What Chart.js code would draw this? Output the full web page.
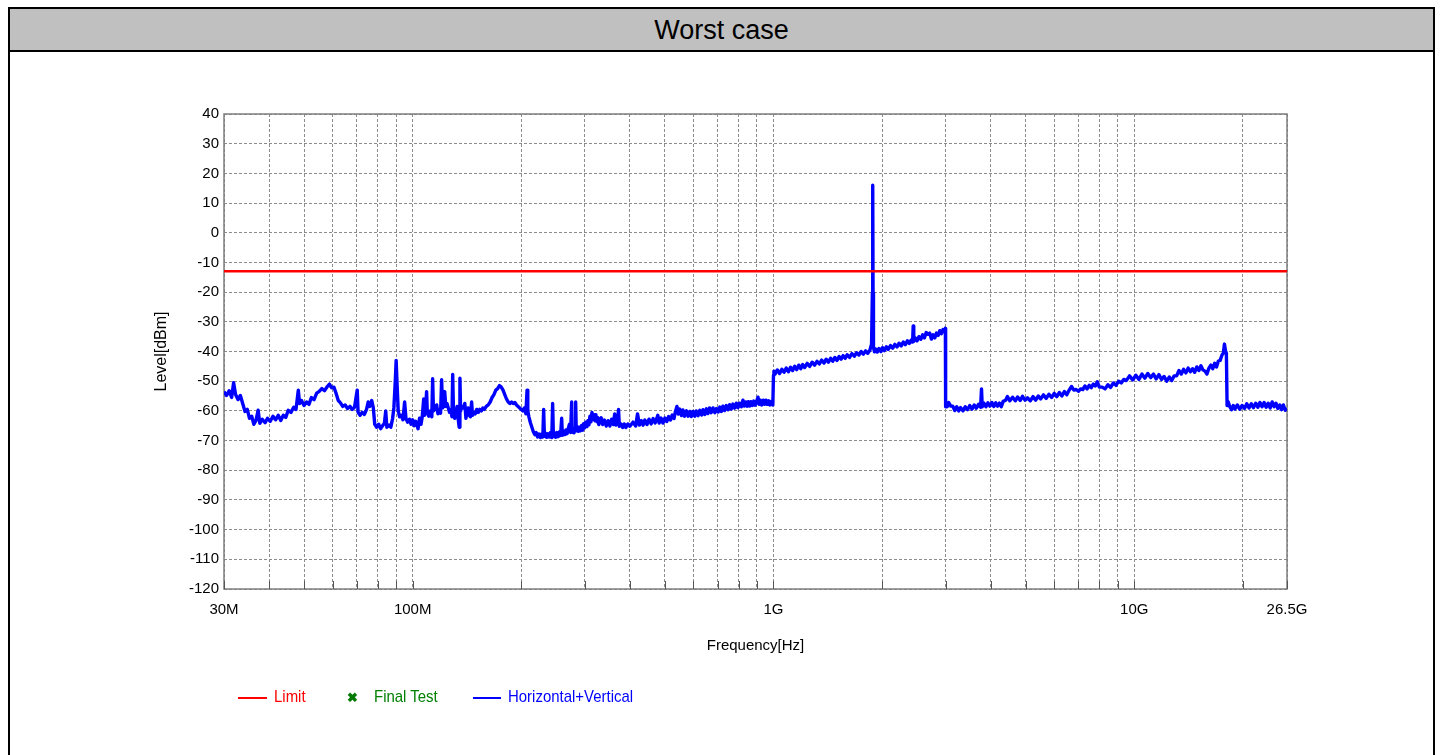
<!DOCTYPE html>
<html><head><meta charset="utf-8">
<script src="https://cdn.jsdelivr.net/npm/chart.js@4/dist/chart.umd.min.js"></script>
<style>
html,body{margin:0;padding:0;background:#fff;width:1441px;height:755px;overflow:hidden;}
#frame{position:absolute;left:8px;top:7px;height:800px;border:2px solid #000;box-sizing:border-box;width:1427px;}
#title{height:41px;background:#c0c0c0;border-bottom:2px solid #000;text-align:center;font-family:"Liberation Sans",Arial,sans-serif;font-size:27px;line-height:42px;color:#000;}
#c{position:absolute;left:0;top:0;}
.lg{position:absolute;top:686px;font-family:"Liberation Sans",Arial,sans-serif;font-size:17px;line-height:22px;white-space:nowrap;transform:scaleX(0.88);transform-origin:0 50%;}
.ln{position:absolute;height:2px;top:697px;}
</style>
</head><body>
<div id="frame"><div id="title">Worst case</div></div>
<canvas id="c" width="1441" height="755"></canvas>
<div class="ln" style="left:238px;width:29px;background:#ff0000"></div>
<div class="lg" style="left:274px;color:#ff0000">Limit</div>
<div class="lg" style="left:347px;color:#007a00;font-size:13px;font-weight:bold;top:687px;transform:none">&#10006;</div>
<div class="lg" style="left:374px;color:#008000">Final Test</div>
<div class="ln" style="left:473px;width:28px;background:#0000ff"></div>
<div class="lg" style="left:508px;color:#0000ff">Horizontal+Vertical</div>
<script>
const FONT = '"Liberation Sans",Arial,sans-serif';

// Frequency axis (MHz) grid positions and labels
const gridFreqs = [30,40,50,60,70,80,90,100,200,300,400,500,600,700,800,900,1000,2000,3000,4000,5000,6000,7000,8000,9000,10000,20000,26500];
const freqLabels = {30:'30M',100:'100M',1000:'1G',10000:'10G',26500:'26.5G'};
const levelMin = -120, levelMax = 40, levelStep = 10;

// Limit line (dBm)
const limitLevel = -13;
const limitFreqs = [30, 26500];

// Final Test markers (none in this plot)
const finalTest = [];

// Horizontal+Vertical trace: [frequency MHz, level dBm]
const traceHV = [
[30,-53.5],[30.5,-54.8],[31,-53.2],[31.5,-55.5],[31.9,-50.5],[32.3,-54.5],[32.8,-56.2],[33.3,-54.8],[33.8,-57.5],[34.3,-60.2],[34.8,-59.5],[35.3,-62.5],[35.8,-61.8],[36.3,-64.5],[36.8,-63.2],[37.3,-59.8],[37.7,-64.2],[38.3,-62.8],[39,-64],[39.6,-62.5],[40.3,-63.5],[41,-61.8],[41.7,-63],[42.4,-61.5],[43.1,-63.2],[43.8,-61.5],[44.5,-62.2],[45.2,-59.8],[46,-60.5],[46.8,-58.8],[47.5,-59.5],[48.2,-53],[48.6,-57.5],[49.2,-56.5],[50,-58.2],[50.8,-57],[51.6,-57.8],[52.4,-55.5],[53.3,-56.2],[54.2,-54],[55,-53.5],[56,-52.5],[57,-53.2],[58,-51.8],[58.8,-51],[59.6,-52.2],[60.5,-52],[61.3,-54],[62.2,-56.5],[63,-57.2],[64,-58.5],[65,-58],[66,-59.2],[67,-58.5],[68,-59.5],[69,-58.8],[70.2,-53],[70.6,-60.5],[71.5,-61.5],[72.5,-60.5],[73.5,-61.2],[74.5,-59.5],[75.3,-57],[76,-58.5],[77,-56.5],[77.8,-59],[78.5,-64.5],[79.5,-65.5],[80.5,-64.5],[81.5,-66],[82.5,-65],[83.5,-64.2],[84.2,-60],[84.8,-65.5],[86,-64.8],[87,-65.5],[88,-62.5],[88.7,-59],[89.5,-50],[90,-43],[90.6,-52],[91.2,-60],[92,-62],[93,-61.5],[94,-63],[95,-57],[95.8,-62.5],[96.8,-63.8],[98,-62.8],[99,-64.5],[100,-63],[101,-65],[102,-63.5],[103.5,-66],[104.5,-62.5],
[105.5,-64.5],[106.3,-62],[107.3,-56],[107.8,-61.5],[108.5,-60.5],[109.3,-53.5],[109.8,-60.5],[110.8,-61.8],[112,-60],[113,-62],[113.6,-49.2],[114.2,-60],[115.2,-59.5],[116.6,-58],[117.5,-61],[118.5,-59.5],[119.5,-60.8],[120.3,-49.5],[121,-59],[121.8,-58.5],[122.7,-53.5],[123.5,-58.5],[124.5,-57.5],[125.5,-59],[126.5,-60.5],[127.5,-59.5],[128.5,-62],[129.1,-47.7],[129.8,-61],[130.8,-62.5],[131.8,-60.5],[132.8,-58.5],[133.8,-63],[134.6,-65.5],[135.2,-49],[135.8,-60],[137,-58.5],[138.5,-59],[139.5,-57.5],[140.5,-62.5],[141.5,-60.5],[142.5,-59],[143.5,-61.5],[144.5,-62],[145.7,-57],[146.5,-61.5],[147.5,-60.5],[149,-61],[150.5,-59.5],[152,-60.5],[153.5,-59.5],[155,-60],[156.5,-59],[158,-59.5],[160,-58.5],[162,-58],[164,-57],[166,-55.5],[168,-54.5],[170,-53],[172,-52.5],[174,-51.5],[176,-52],[178,-53],[180,-54.5],[182,-56],[184,-57],[186,-57.5],[188,-57],[190,-57.5],[192,-57.2],[194,-58],[196,-58.5],[198,-59],[200,-59.5],[202,-60],[204,-59],[206,-61],[207.5,-53],[208.5,-60],[210,-62],[212,-64],[214,-65.5],[216,-67],[218,-68],[220,-67.3],[222,-68.8],[224,-67.8],[226,-69],[228,-67.8],[229.5,-68.8],[230.7,-59.5],[231.8,-68.6],[233,-67.4],[235,-68.9],[237,-67.7],[239,-68.8],[241,-67.3],[243,-69],[244.3,-57.5],[245.5,-68.6],[247,-67.5],[249,-68.9],[251,-67.3],[253,-68.7],[255,-67.1],[257,-68.3],[258.8,-62.5],[260,-68.2],[262,-66.8],[264,-68],[266,-66.4],[268,-67.7],[270,-65.9],[272,-64.5],[274,-67.3],[275.9,-57],[276.8,-67.2],[278,-66.2],[280,-67.4],[282,-65.8],[283,-57],[284,-66.7],[286,-65.3],[288,-66.9],[290,-65.5],[292,-66.7],[294,-64.9],[296,-66.5],[298,-64.3],[300,-65.7],[302,-63.8],[304,-65.3],[306,-63.3],[308,-64.7],[310,-61.8],[312,-63.7],[314,-60.5],[316,-62.8],[318,-61.3],[320,-63.3],[322,-61.3],[324,-63.7],[326,-62.3],[328,-64.6],[330,-63.3],
[333,-62.3],[336,-64.6],[340,-63.1],[344,-65.1],[348,-63.3],[352,-65.1],[356,-62.8],[360,-64.6],[363,-61],[366,-64.8],[370,-63.3],[372,-59.5],[374,-65.2],[378,-64.4],[382,-65.6],[386,-64.4],[390,-65.6],[395,-64.4],[400,-65.2],[408,-63.8],[415,-65.1],[420,-61],[425,-64.8],[430,-63.3],[435,-64.8],[440,-63.1],[446,-64.6],[452,-62.8],[458,-64.4],[464,-62.6],[470,-64.1],[478,-61.5],[482,-64.1],[488,-62.4],[494,-64.1],[500,-62.4],[506,-63.6],[512,-61.9],[518,-63.1],[524,-61.4],[530,-62.6],[535,-60.2],[540,-58.5],[545,-61.1],[550,-59.4],[556,-61.6],[561,-59.7],[567,-61.8],[574,-60],[580,-61.8],[586,-60.2],[592,-61.9],[598,-60.2],[605,-61.8],[611,-60],[618,-61.6],[625,-59.8],[632,-61.4],[638,-59.6],[645,-61.2],[652,-59.3],[658,-60.9],[665,-59],[672,-60.6],[680,-59],[688,-60.6],[695,-59.2],[703,-60.4],[710,-58.7],[717,-60.2],[724,-58.4],[732,-59.9],[740,-58.2],[748,-59.6],[756,-57.9],[764,-59.4],[772,-57.7],[780,-59.1],[789,-57.4],[797,-58.9],[805,-57.4],[815,-58.6],[823,-56.4],[830,-58.4],[838,-57],[846,-58.4],[852,-56.9],[859,-58.4],[866,-56.9],[874,-58.2],[882,-56.7],[890,-58.1],[898,-56.8],[906,-55.4],[912,-57.8],[920,-56.4],[928,-58],[937,-56.4],[945,-57.8],[953,-56.4],[962,-57.8],[970,-56.6],[978,-58],[988,-56.8],[996,-58],
[1000,-48],[1003,-46.6],[1010,-47.6],[1025,-46.2],[1040,-47.4],[1055,-46],[1070,-47],[1085,-45.6],[1100,-46.8],[1115,-45.3],[1130,-46.4],[1145,-45],[1160,-46.1],[1175,-44.6],[1190,-45.8],[1205,-44.4],[1220,-45.4],[1240,-44],[1260,-45],[1280,-43.6],[1300,-44.6],[1320,-43.3],[1340,-44.2],[1360,-42.9],[1380,-43.9],[1400,-42.6],[1420,-43.6],[1440,-42.3],[1460,-43.3],[1480,-42],[1500,-43],[1520,-41.7],[1540,-42.6],[1560,-41.4],[1580,-42.3],[1600,-41.1],[1625,-42],[1650,-40.7],[1675,-41.6],[1700,-40.4],[1725,-41.2],[1750,-40],[1775,-40.9],[1800,-39.8],[1825,-40.6],[1850,-39.6],[1870,-37.5],[1880,-20],[1884,16],[1888,-20],[1893,-38.5],[1905,-40.1],[1920,-39.2],[1940,-40.2],[1960,-39],[1985,-40],[2005,-38.7],[2030,-39.7],[2055,-38.4],[2080,-39.3],[2110,-38],[2140,-38.9],[2170,-37.6],[2200,-38.5],[2230,-37.2],[2260,-38.1],[2290,-36.8],[2320,-37.7],[2350,-36.4],[2380,-37.3],[2410,-36.1],[2430,-36.8],[2439,-31.4],[2448,-36.6],[2470,-35.4],[2500,-36.4],[2530,-35],[2560,-35.9],[2590,-34.4],[2620,-35.4],[2650,-33.6],[2680,-34.2],[2710,-33.8],[2740,-35.8],[2770,-34.4],[2800,-35.4],[2830,-33.8],[2860,-34.6],[2890,-33],[2920,-34],[2950,-32.6],[2980,-33.4],[2995,-32.2],
[3000,-58.6],[3010,-57.4],[3030,-58.6],[3060,-57.2],[3100,-58.4],[3140,-58.4],[3180,-59.9],[3220,-58.6],[3260,-60],[3300,-58.9],[3350,-60],[3400,-58.6],[3450,-59.6],[3500,-58.2],[3550,-59.4],[3600,-58],[3650,-59.1],[3700,-57.8],[3750,-58.8],[3772,-52.6],[3790,-58.6],[3830,-57.4],[3880,-58.6],[3930,-57.3],[3980,-58.4],[4030,-57.2],[4080,-58.5],[4130,-57.3],[4180,-58.4],[4230,-57.4],[4280,-58.6],[4330,-56.8],[4400,-56.4],[4450,-55.2],[4520,-56.6],[4600,-55.4],[4680,-56.6],[4750,-55.3],[4830,-56.5],[4900,-55.1],[4980,-56.4],[5060,-55.6],[5150,-56.6],[5240,-55.2],[5330,-56.4],[5420,-55],[5500,-56],[5600,-54.6],[5700,-55.8],[5800,-54.4],[5900,-55.5],[6000,-54.1],[6100,-55.2],[6200,-53.8],[6300,-55],[6400,-53.5],[6500,-54.6],[6600,-53],[6700,-51.8],[6800,-53],[6900,-52.8],[7000,-53.4],[7100,-52.6],[7200,-52.8],[7300,-51.6],[7400,-52.6],[7500,-51.4],[7600,-52.2],[7700,-51],[7800,-51.6],[7900,-50.2],[8000,-52],[8150,-52],[8300,-52.6],[8450,-51.2],[8600,-52.1],[8750,-50.6],[8900,-51.4],[9050,-50],[9200,-50.6],[9350,-49.4],[9500,-49.8],[9700,-48.2],[9900,-49.6],[10100,-48],[10300,-49.4],[10500,-47.6],[10700,-49],[10900,-47.4],[11100,-48.8],[11300,-47.6],[11500,-49.2],[11700,-47.8],[11900,-49.4],[12100,-48.4],[12300,-50],[12500,-48.6],[12700,-49.8],[12900,-48.2],[13100,-48.2],[13300,-46.4],[13500,-47.6],[13700,-46],[13900,-47.2],[14100,-45.6],[14300,-46.8],[14500,-45.8],[14700,-47],[14900,-45.2],[15100,-46.4],[15300,-44.8],[15500,-46.2],[15700,-46.6],[15900,-47.6],[16100,-45.6],[16300,-44.6],[16500,-45.8],[16700,-44],[16900,-45.2],[17100,-43.2],[17300,-43],[17500,-41.2],[17650,-40.6],[17780,-37.5],[17900,-39.8],[18000,-40.6],
[18080,-58.2],[18200,-56.9],[18400,-58.6],[18600,-59.6],[18800,-58.2],[19000,-59.4],[19300,-58],[19600,-59.4],[19900,-58.2],[20200,-59.2],[20500,-57.6],[20800,-59],[21100,-57.6],[21400,-58.9],[21700,-57.4],[22000,-58.8],[22300,-57.2],[22600,-58.6],[22900,-57.2],[23200,-58.8],[23500,-57.4],[23800,-59],[24100,-57],[24400,-58.6],[24700,-57.4],[25000,-59.2],[25300,-58],[25600,-59.6],[25900,-58],[26200,-59.8],[26500,-59]
];

const framePlugin = {
  id: 'plotFrame',
  beforeDatasetsDraw(chart) {
    const a = chart.chartArea, ctx = chart.ctx, xs = chart.scales.x;
    ctx.save();
    ctx.strokeStyle = '#7f7f7f';
    ctx.lineWidth = 1.5;
    ctx.strokeRect(a.left, a.top, a.right - a.left, a.bottom - a.top);
    ctx.strokeStyle = '#555';
    ctx.lineWidth = 1;
    ctx.beginPath();
    xs.ticks.forEach(t => {
      const px = Math.round(xs.getPixelForValue(t.value)) + 0.5;
      ctx.moveTo(px, a.bottom - 8);
      ctx.lineTo(px, a.bottom);
    });
    ctx.stroke();
    ctx.restore();
  }
};

new Chart(document.getElementById('c'), {
  type: 'line',
  data: {
    datasets: [
      { label: 'Limit', data: limitFreqs.map(f => ({x: f, y: limitLevel})), borderColor: '#ff0000', borderWidth: 2.5, pointRadius: 0, fill: false },
      { label: 'Final Test', data: finalTest, borderColor: '#008000', backgroundColor: '#008000', showLine: false, pointStyle: 'crossRot', pointRadius: 5 },
      { label: 'Horizontal+Vertical', data: traceHV.map(p => ({x: p[0], y: p[1]})), borderColor: '#0000ff', borderWidth: 3.4, borderJoinStyle: 'round', pointRadius: 0, fill: false, tension: 0 }
    ]
  },
  options: {
    responsive: false,
    animation: false,
    layout: { padding: { left: 144, right: 154, top: 114, bottom: 86 } },
    plugins: { legend: { display: false }, tooltip: { enabled: false } },
    scales: {
      x: {
        type: 'logarithmic', min: 30, max: 26500,
        afterFit(s) { s.height = 80; },
        afterBuildTicks(s) { s.ticks = gridFreqs.map(v => ({value: v})); },
        ticks: { autoSkip: false, maxRotation: 0, padding: 12, color: '#000', font: { family: FONT, size: 15 },
          callback: (v) => freqLabels[v] || '' },
        grid: { color: '#8c8c8c', drawTicks: false, lineWidth: 1 },
        border: { display: false, dash: [3, 2] },
        title: { display: true, text: 'Frequency[Hz]', color: '#000', font: { family: FONT, size: 15 }, padding: { top: 4, bottom: 14 } }
      },
      y: {
        type: 'linear', min: levelMin, max: levelMax,
        afterFit(s) { s.width = 80; },
        ticks: { stepSize: levelStep, padding: 5, color: '#000', font: { family: FONT, size: 15 } },
        grid: { color: '#8c8c8c', drawTicks: false, lineWidth: 1 },
        border: { display: false, dash: [3, 2] },
        title: { display: true, text: 'Level[dBm]', color: '#000', font: { family: FONT, size: 16 }, padding: { top: 8, bottom: 4 } }
      }
    }
  },
  plugins: [framePlugin]
});
</script>
</body></html>
